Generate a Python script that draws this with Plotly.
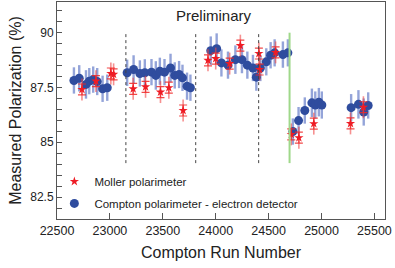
import plotly.graph_objects as go

# Compton polarimeter - electron detector
compton_run = [22660, 22710, 22774, 22805, 22842, 22880, 22931, 22975,
               23163, 23224, 23283, 23330, 23393, 23434, 23472, 23516, 23573, 23613, 23654, 23686, 23729, 23761,
               23953, 24009, 24054, 24116, 24186, 24248, 24299, 24352, 24384, 24422, 24478, 24519, 24557, 24635, 24682,
               24729, 24783, 24842, 24909, 24941, 24975, 25003, 25280, 25349, 25399, 25441]
compton_pol = [87.82, 87.92, 87.64, 87.79, 87.86, 87.77, 87.44, 87.49,
               88.17, 88.32, 88.14, 88.17, 88.20, 88.05, 88.24, 88.20, 88.39, 88.05, 88.09, 87.94, 87.56, 87.49,
               89.18, 89.27, 88.62, 88.52, 88.77, 88.77, 88.52, 88.39, 87.97, 88.39, 88.67, 88.97, 89.08, 89.00, 89.08,
               85.49, 85.99, 86.45, 86.80, 86.70, 86.83, 86.70, 86.58, 86.73, 86.38, 86.68]
compton_err = [0.60, 0.60, 0.65, 0.60, 0.60, 0.62, 0.60, 0.60,
               0.60, 0.65, 0.60, 0.62, 0.60, 0.65, 0.62, 0.60, 0.65, 0.60, 0.62, 0.60, 0.62, 0.60,
               0.65, 0.70, 0.62, 0.62, 0.65, 0.62, 0.62, 0.60, 0.62, 0.60, 0.62, 0.60, 0.62, 0.60, 0.62,
               0.60, 0.62, 0.60, 0.65, 0.62, 0.65, 0.62, 0.62, 0.65, 0.62, 0.60]

# Moller polarimeter
moller_run = [22736, 22868, 23009, 23035,
              23220, 23337, 23478, 23557, 23692,
              23927, 24000, 24132, 24233, 24408, 24415, 24566,
              24714, 24786, 24927, 25274, 25396]
moller_pol = [87.41, 87.79, 88.14, 88.10,
              87.44, 87.53, 87.29, 87.49, 86.45,
              88.74, 88.82, 88.59, 89.41, 89.05, 88.32, 89.10,
              85.36, 85.21, 85.85, 85.86, 86.60]
moller_stat = [0.25] * len(moller_run)
moller_tot = [0.50] * len(moller_run)

# Period boundaries
dotted_runs = [23151, 23811, 24406]
green_run = 24698
line_bottom, line_top = 84.05, 90.0

x_ticks = [22500, 23000, 23500, 24000, 24500, 25000, 25500]
x_tick_text = ["22500", "23000", "23500", "24000", "24500", "25000", "25500"]
y_ticks = [82.5, 85, 87.5, 90]
y_tick_text = ["82.5", "85", "87.5", "90"]

blue = "#2f4c9e"
red = "#ee1c25"

fig = go.Figure()

fig.add_trace(go.Scatter(
    x=compton_run, y=compton_pol, mode="markers",
    name="Compton polarimeter - electron detector",
    marker=dict(symbol="circle", size=9, color=blue),
    error_y=dict(type="data", array=compton_err, color="rgba(60,90,185,0.55)",
                 thickness=2.4, width=0),
    legendgroup="b", legendrank=2,
))
fig.add_trace(go.Scatter(
    x=moller_run, y=moller_pol, mode="markers", showlegend=False,
    marker=dict(size=1, color="rgba(0,0,0,0)"),
    error_y=dict(type="data", array=moller_tot, color="rgba(240,70,70,0.6)",
                 thickness=1.6, width=0),
))
fig.add_trace(go.Scatter(
    x=moller_run, y=moller_pol, mode="markers",
    name="Moller polarimeter",
    marker=dict(symbol="star", size=7, color=red),
    error_y=dict(type="data", array=moller_stat, color="rgba(240,40,40,0.85)",
                 thickness=1.2, width=4),
    legendgroup="a", legendrank=1,
))

shapes = []
for r in dotted_runs:
    shapes.append(dict(type="line", xref="x", yref="y", x0=r, x1=r, y0=line_bottom, y1=line_top,
                       line=dict(color="#444444", width=1, dash="dot")))
shapes.append(dict(type="line", xref="x", yref="y", x0=green_run, x1=green_run, y0=line_bottom, y1=line_top,
                   line=dict(color="#9fd88a", width=2)))

fig.update_layout(
    width=395, height=268,
    margin=dict(l=57, r=10, t=2, b=49, autoexpand=False),
    paper_bgcolor="white", plot_bgcolor="white",
    font=dict(family="Liberation Sans, Arial, sans-serif", color="#222222"),
    shapes=shapes,
    showlegend=True,
    legend=dict(x=-0.008, y=0.24, xanchor="left", yanchor="top",
                bgcolor="rgba(0,0,0,0)", font=dict(size=11.5),
                traceorder="grouped", tracegroupgap=3, itemwidth=30),
    annotations=[dict(x=23981, y=90.77, xref="x", yref="y", text="Preliminary",
                      showarrow=False, font=dict(size=15, color="#222222"))],
)

fig.update_xaxes(
    range=[22500, 25600], tickvals=x_ticks, ticktext=x_tick_text, ticks="inside", ticklen=6,
    tickcolor="#555555", showline=True, linecolor="#555555", linewidth=1, mirror=True,
    showgrid=False, zeroline=False, tickfont=dict(size=12.5), automargin=False,
    title=dict(text="Compton Run Number", font=dict(size=16), standoff=9),
)
fig.update_yaxes(
    range=[81.5, 91.4], tickvals=y_ticks, ticktext=y_tick_text, ticks="inside", ticklen=5,
    tickcolor="#555555", showline=True, linecolor="#555555", linewidth=1, mirror=True,
    showgrid=False, zeroline=False, tickfont=dict(size=12), automargin=False,
    minor=dict(dtick=0.5, ticks="inside", ticklen=5, tickcolor="#555555"),
    title=dict(text="Measured Polarization (%)", font=dict(size=16), standoff=4),
)

fig.write_html("out.html", config={"displayModeBar": False},
               post_script="document.body.style.margin='0';document.body.style.padding='0';")
